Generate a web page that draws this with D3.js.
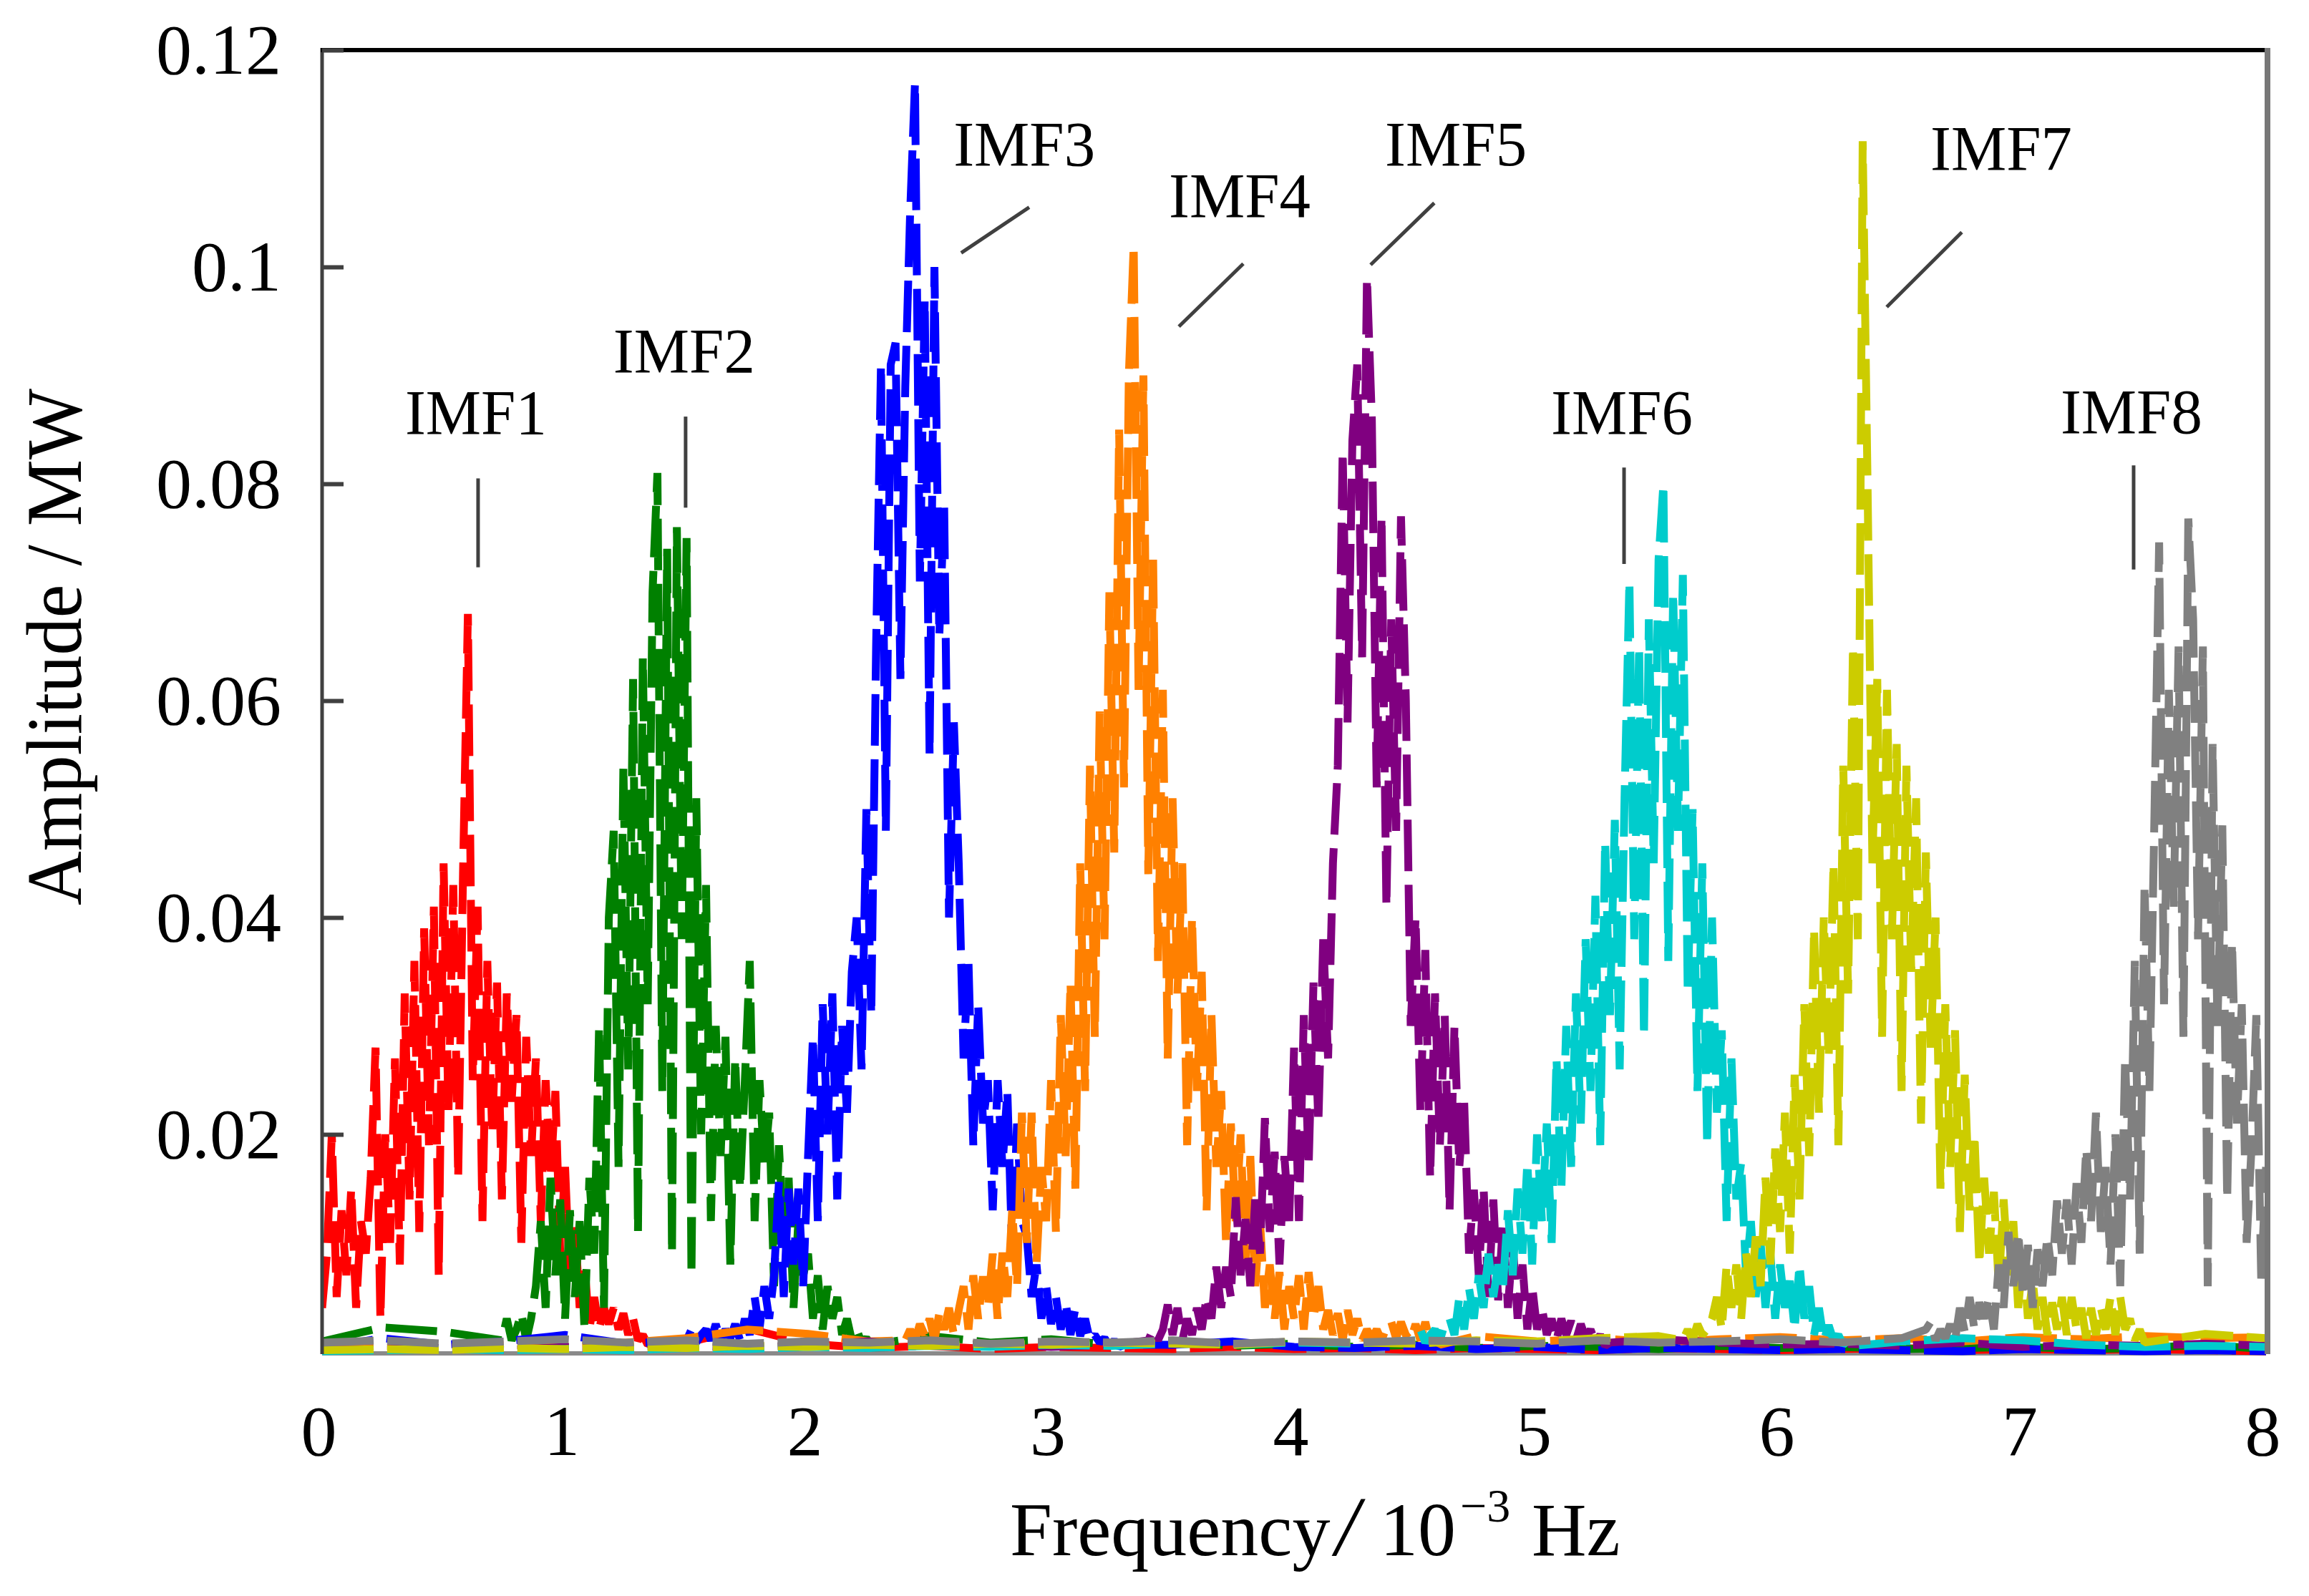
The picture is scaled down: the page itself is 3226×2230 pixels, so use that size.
<!DOCTYPE html>
<html><head><meta charset="utf-8">
<script src="https://cdn.jsdelivr.net/npm/d3@7"></script>
<style>html,body{margin:0;padding:0;background:#fff}svg{display:block}</style>
</head><body>
<svg id="chart" width="3226" height="2230"></svg>
<script>
// ---------------- data ----------------
const X_TICKS = [0, 1, 2, 3, 4, 5, 6, 7, 8];
const Y_TICKS = [0.02, 0.04, 0.06, 0.08, 0.1, 0.12];
const Y_TICK_LABELS = ["0.02", "0.04", "0.06", "0.08", "0.1", "0.12"];
const SERIES_NAMES = ["IMF1", "IMF2", "IMF3", "IMF4", "IMF5", "IMF6", "IMF7", "IMF8"];
const SERIES_COLORS = ["#ff0000", "#008000", "#0000ff", "#ff8000", "#800080", "#00cccc", "#cccc00", "#808080"];

// spectral bins (10^-3 Hz): each IMF band starts at BAND_START and advances by BIN_STEP
const BIN_STEP = 0.02;
const BAND_START = [0.00, 0.74, 1.50, 2.40, 3.40, 4.50, 5.60, 6.60];

// amplitudes (MW) inside each band
const imf1Amp = [.004,.009,.020,.005,.013,.007,.015,.004,.012,.009,
 .016,.028,.003,.020,.010,.027,.008,.033,.014,.036,
 .011,.039,.019,.041,.007,.045,.022,.043,.016,.044,
 .068,.025,.041,.012,.036,.020,.034,.014,.033,.023,
 .031,.010,.029,.018,.027,.012,.025,.016,.024,.009,
 .017,.006,.012,.004,.008,.002,.005,.002,.004,.0025,
 .004,.002,.0035,.0015,.003,.001,.0015,.0006,.0008];
const imf2Amp = [.001,.003,.001,.002,.0035,.001,.003,.006,.012,.004,
 .016,.007,.014,.003,.013,.005,.012,.002,.016,.009,
 .030,.004,.040,.048,.017,.054,.026,.062,.011,.064,
 .032,.070,.081,.024,.074,.009,.076,.038,.075,.007,
 .051,.020,.043,.012,.030,.018,.029,.008,.027,.015,
 .025,.036,.012,.025,.017,.022,.006,.019,.010,.016,
 .004,.012,.007,.009,.003,.007,.002,.006,.003,.005,
 .0015,.003,.001,.002,.0008,.0012,.0006];
const imf3Amp = [.001,.002,.0008,.0015,.002,.001,.0025,.001,.002,.0012,
 .0025,.001,.003,.0015,.005,.002,.006,.003,.007,.0156,
 .005,.015,.008,.015,.006,.018,.029,.012,.032,.020,
 .033,.014,.030,.022,.035,.040,.026,.050,.031,.065,
 .091,.048,.091,.093,.062,.089,.105,.117,.071,.097,
 .055,.100,.066,.078,.040,.058,.045,.027,.036,.019,
 .032,.021,.025,.013,.025,.017,.024,.009,.021,.012,
 .0106,.005,.008,.003,.006,.0025,.005,.002,.0045,.0015,
 .004,.0014,.003,.001,.0015,.0008,.0012,.0005,.001,.0004,
 .0006];
const imf4Amp = [.001,.002,.001,.0025,.0015,.003,.001,.0035,.002,.004,
 .0015,.0038,.006,.002,.007,.003,.0069,.004,.009,.003,
 .0091,.005,.013,.006,.022,.010,.022,.008,.017,.012,
 .025,.011,.031,.018,.034,.015,.045,.024,.054,.029,
 .059,.038,.070,.046,.085,.052,.090,.102,.061,.090,
 .044,.073,.036,.061,.027,.051,.033,.045,.019,.040,
 .024,.035,.013,.031,.017,.024,.010,.021,.012,.020,
 .008,.018,.006,.012,.004,.008,.003,.0073,.002,.006,
 .003,.007,.002,.0073,.003,.006,.002,.0038,.0015,.0035,
 .001,.0038,.0015,.003,.001,.002,.0012,.002,.001,.0022,
 .0027,.0012,.0027,.0015,.001,.0025,.001,.0027,.0008,.0015,
 .0006];
const imf5Amp = [.001,.002,.001,.002,.0043,.0015,.004,.001,.003,.0015,
 .004,.002,.005,.003,.0078,.004,.0078,.005,.0142,.007,
 .0122,.006,.014,.009,.0215,.011,.0184,.008,.018,.012,
 .028,.012,.031,.017,.034,.021,.038,.027,.045,.054,
 .083,.058,.084,.091,.064,.099,.086,.052,.077,.041,
 .0675,.048,.077,.060,.030,.040,.022,.037,.016,.033,
 .019,.031,.013,.030,.017,.023,.009,.0149,.007,.015,
 .005,.014,.0047,.012,.004,.010,.003,.008,.002,.006,
 .002,.004,.0015,.003,.001,.003,.0015,.0028,.001,.0025,
 .0012,.002,.0008,.0015,.0005,.0008];
const imf6Amp = [.001,.002,.0008,.0015,.002,.001,.0025,.003,.0015,.005,
 .002,.0058,.003,.007,.004,.009,.005,.008,.006,.013,
 .007,.015,.009,.0174,.008,.020,.012,.021,.010,.027,
 .015,.030,.017,.033,.021,.038,.024,.042,.019,.047,
 .031,.049,.026,.051,.071,.038,.065,.029,.0675,.045,
 .073,.080,.036,.070,.048,.0716,.033,.050,.024,.045,
 .019,.040,.022,.0296,.012,.027,.014,.0174,.007,.012,
 .005,.010,.004,.009,.003,.008,.004,.0065,.002,.008,
 .003,.006,.0015,.004,.001,.0024,.001,.0015,.0006,.001,
 .0005];
const imf7Amp = [.001,.002,.001,.0025,.0015,.002,.003,.005,.002,.0079,
 .004,.008,.003,.009,.005,.0106,.006,.016,.008,.0187,
 .011,.022,.009,.0255,.014,.032,.018,.039,.022,.040,
 .027,.045,.019,.054,.033,.065,.038,.1116,.080,.045,
 .062,.029,.061,.038,.056,.024,.054,.035,.051,.021,
 .046,.028,.040,.015,.032,.017,.0296,.011,.0255,.013,
 .020,.008,.016,.009,.0147,.006,.014,.007,.012,.004,
 .009,.003,.0065,.002,.005,.0015,.0045,.002,.005,.0015,
 .005,.002,.004,.0012,.004,.0015,.004,.002,.005,.0015,
 .005,.002,.003,.001,.002,.0008];
const imf8Amp = [.002,.0027,.001,.002,.0012,.0025,.001,.004,.0018,.005,
 .002,.0045,.003,.005,.002,.008,.004,.011,.006,.011,
 .005,.0098,.004,.0094,.006,.0106,.007,.0139,.009,.014,
 .008,.0155,.010,.0187,.012,.022,.011,.017,.008,.020,
 .006,.027,.014,.036,.009,.043,.024,.0485,.0746,.032,
 .061,.041,.065,.029,.0768,.0675,.038,.065,.006,.056,
 .030,.0485,.014,.0377,.021,.032,.010,.0187,.031,.0067,
 .017];

// near-zero floor of every IMF spectrum outside its band (null = inside band)
const TAIL_FREQ = [0,0.25,0.5,0.75,1,1.25,1.5,1.75,2,2.25,2.5,2.75,3,3.25,3.5,3.75,4,
 4.25,4.5,4.75,5,5.25,5.5,5.75,6,6.25,6.5,6.75,7,7.25,7.5,7.75,8];
const imf1Tail = [null,null,null,null,null,null,.0008,.0021,.0007,.0003,.0005,.0002,.0004,.0003,.0002,.0004,.0002,
 .0003,.0001,.0003,.0002,.0001,.0003,.0002,.0001,.0002,.0003,.0001,.0002,.0001,.0002,.0001,0];
const imf2Tail = [.0009,.0022,.0018,null,null,null,null,null,null,null,.0014,.0008,.0011,.0006,.0009,.0005,.0007,
 .0004,.0006,.0003,.0005,.0004,.0002,.0005,.0003,.0004,.0002,.0003,.0004,.0002,.0003,.0006,.0002];
const imf3Tail = [.0003,.0012,.0006,.0009,.0015,.0007,null,null,null,null,null,null,null,null,.0006,.0009,.0004,
 .0003,.0005,.0002,.0004,.0001,.0003,.0002,.0001,.0002,.0001,0,.0002,.0001,0,.0001,0];
const imf4Tail = [.0002,.0005,.0003,.0006,.0004,.0008,.0012,.0020,.0016,.0009,null,null,null,null,null,null,null,
 null,null,.0014,.0009,.0012,.0008,.0011,.0013,.0010,.0012,.0009,.0013,.0011,.0014,.0012,.0013];
const imf5Tail = [.0001,.0002,.0003,.0001,.0004,.0002,.0005,.0003,.0006,.0009,.0005,.0007,.0004,.0006,null,null,null,
 null,null,null,null,null,.0011,.0008,.0006,.0007,.0005,.0008,.0004,.0006,.0005,.0007,.0005];
const imf6Tail = [0,.0001,.0002,.0001,.0002,.0001,.0003,.0002,.0004,.0003,.0005,.0004,.0006,.0005,.0007,.0006,.0008,
 .0007,null,null,null,null,null,null,null,null,.0009,.0012,.0010,.0006,.0004,.0005,.0004];
const imf7Tail = [.0001,.0002,.0001,.0003,.0002,.0004,.0003,.0005,.0004,.0006,.0005,.0007,.0006,.0008,.0007,.0006,.0009,
 .0008,.0007,.0010,.0009,.0012,.0014,null,null,null,null,null,null,null,null,.0016,.0012];
const imf8Tail = [.0008,.0010,.0007,.0009,.0011,.0008,.0010,.0007,.0009,.0008,.0010,.0007,.0009,.0008,.0010,.0007,.0009,
 .0008,.0010,.0009,.0007,.0010,.0008,.0009,.0011,.0008,.0012,null,null,null,null,null,null];

const BAND_AMPS = [imf1Amp, imf2Amp, imf3Amp, imf4Amp, imf5Amp, imf6Amp, imf7Amp, imf8Amp];
const TAIL_AMPS = [imf1Tail, imf2Tail, imf3Tail, imf4Tail, imf5Tail, imf6Tail, imf7Tail, imf8Tail];

// label annotations in data units: label anchor (f, amp) and leader line ends
const ANNOTATIONS = [
  {f: 0.633, a: 0.0846, f1: 0.642, a1: 0.0805, f2: 0.642, a2: 0.0723},
  {f: 1.490, a: 0.0903, f1: 1.496, a1: 0.0862, f2: 1.496, a2: 0.0778},
  {f: 2.890, a: 0.1094, f1: 2.630, a1: 0.1013, f2: 2.910, a2: 0.1055},
  {f: 3.776, a: 0.1046, f1: 3.526, a1: 0.0945, f2: 3.791, a2: 0.1003},
  {f: 4.666, a: 0.1094, f1: 4.315, a1: 0.1002, f2: 4.577, a2: 0.1059},
  {f: 5.349, a: 0.0846, f1: 5.358, a1: 0.0815, f2: 5.358, a2: 0.0726},
  {f: 6.910, a: 0.1090, f1: 6.439, a1: 0.0963, f2: 6.748, a2: 0.1032},
  {f: 7.446, a: 0.0847, f1: 7.455, a1: 0.0817, f2: 7.455, a2: 0.0721}
];

// ---------------- drawing ----------------
const FONT = "'Liberation Serif','Times New Roman',serif";
const svg = d3.select("#chart");
svg.append("rect").attr("width", 3226).attr("height", 2230).attr("fill", "#fff");

const L = 450, R = 3166, T = 70, B = 1888;
const x = d3.scaleLinear().domain([0, 8]).range([L, R]);
const y = d3.scaleLinear().domain([0, 0.12]).range([B, T]);

// build series points
const series = SERIES_NAMES.map((name, k) => {
  const start = BAND_START[k];
  const band = BAND_AMPS[k].map((a, i) => [start + i * BIN_STEP, a]);
  const end = band[band.length - 1][0];
  const tail = [];
  TAIL_AMPS[k].forEach((a, i) => {
    const f = TAIL_FREQ[i];
    if (a !== null && (f < start - 1e-9 || f > end + 1e-9)) tail.push([f, a]);
  });
  const pts = band.concat(tail).sort((p, q) => p[0] - q[0]);
  return {name, color: SERIES_COLORS[k], pts};
});

// bottom line (under data)
svg.append("line").attr("x1", L).attr("x2", R).attr("y1", B + 3).attr("y2", B + 3)
  .attr("stroke", "#8a8a8a").attr("stroke-width", 6);

svg.append("defs").append("clipPath").attr("id", "plotclip")
  .append("rect").attr("x", L).attr("y", T - 8).attr("width", R - L).attr("height", B - T + 20);

const line = d3.line().x(d => x(d[0])).y(d => y(d[1]));
const gData = svg.append("g").attr("clip-path", "url(#plotclip)");
series.forEach(s => {
  gData.append("path")
    .attr("d", line(s.pts))
    .attr("fill", "none")
    .attr("stroke", s.color)
    .attr("stroke-width", 11)
    .attr("stroke-dasharray", "72,19")
    .attr("stroke-linejoin", "bevel")
    .attr("stroke-linecap", "butt");
});

// frame
svg.append("line").attr("x1", L).attr("x2", L).attr("y1", T - 3).attr("y2", B + 4)
  .attr("stroke", "#404040").attr("stroke-width", 5);
svg.append("line").attr("x1", L - 2).attr("x2", R + 6).attr("y1", T).attr("y2", T)
  .attr("stroke", "#000").attr("stroke-width", 6);
svg.append("line").attr("x1", R + 2).attr("x2", R + 2).attr("y1", T - 3).attr("y2", B + 4)
  .attr("stroke", "#777").attr("stroke-width", 8);

// y axis
const yAxis = d3.axisLeft(y).tickValues(Y_TICKS)
  .tickFormat((d, i) => Y_TICK_LABELS[i])
  .tickSizeInner(-30).tickSizeOuter(0).tickPadding(57);
const gy = svg.append("g").attr("transform", `translate(${L},0)`).call(yAxis);
gy.select(".domain").remove();
gy.selectAll(".tick line").attr("stroke", "#404040").attr("stroke-width", 6);
gy.selectAll(".tick text").attr("font-family", FONT).attr("font-size", 100).attr("fill", "#000");

// x axis
const xAxis = d3.axisBottom(x).tickValues(X_TICKS).tickFormat(d3.format("d"))
  .tickSize(0).tickPadding(74);
const gx = svg.append("g").attr("transform", `translate(0,${B})`).call(xAxis);
gx.select(".domain").remove();
gx.selectAll(".tick text").attr("font-family", FONT).attr("font-size", 100)
  .attr("fill", "#000").attr("dx", -5);

// axis titles
svg.append("text")
  .attr("transform", "translate(113,904) rotate(-90)")
  .attr("text-anchor", "middle")
  .attr("font-family", FONT).attr("font-size", 110)
  .attr("textLength", 722).attr("lengthAdjust", "spacingAndGlyphs")
  .attr("fill", "#000")
  .text("Amplitude / MW");

const xt = svg.append("text").attr("font-family", FONT).attr("fill", "#000").attr("y", 2173);
xt.append("tspan").attr("x", 1411).attr("font-size", 106).text("Frequency");
xt.append("tspan").attr("x", 1866).attr("font-size", 118).attr("font-style", "italic").text("/");
xt.append("tspan").attr("x", 1928).attr("font-size", 106).text("10");
xt.append("tspan").attr("x", 2040).attr("y", 2126).attr("font-size", 66).text("\u22123");
xt.append("tspan").attr("x", 2140).attr("y", 2173).attr("font-size", 106).text("Hz");

// IMF labels and leader lines
const gAnn = svg.append("g");
ANNOTATIONS.forEach((an, k) => {
  gAnn.append("line")
    .attr("x1", x(an.f1)).attr("y1", y(an.a1))
    .attr("x2", x(an.f2)).attr("y2", y(an.a2))
    .attr("stroke", "#404040").attr("stroke-width", 5);
  gAnn.append("text")
    .attr("x", x(an.f)).attr("y", y(an.a))
    .attr("text-anchor", "middle")
    .attr("font-family", FONT).attr("font-size", 88)
    .attr("textLength", 198).attr("lengthAdjust", "spacingAndGlyphs")
    .attr("fill", "#000")
    .text(SERIES_NAMES[k]);
});
</script>
</body></html>
